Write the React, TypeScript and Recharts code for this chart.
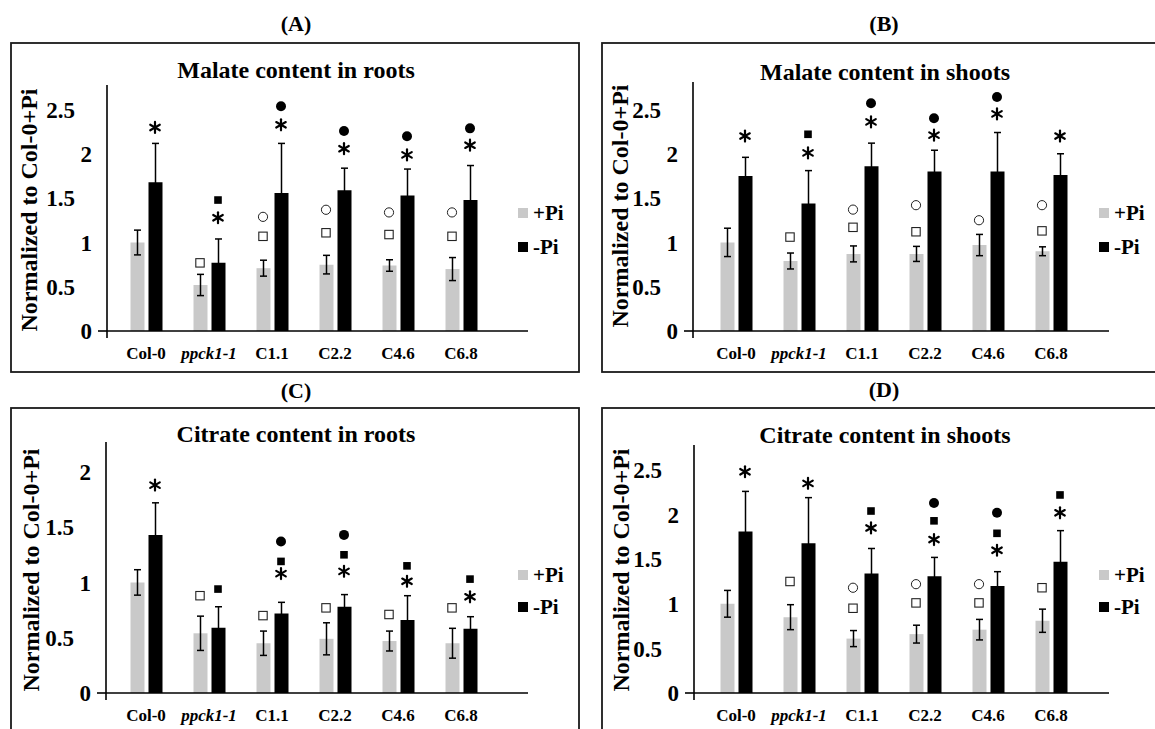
import { BarChart, Bar, XAxis, YAxis, ErrorBar, ReferenceDot, Legend } from "recharts";

const FONT = '"Liberation Serif", "Times New Roman", serif';
const GRAY = "#c9c9c9";

const GENOTYPES = ["Col-0", "ppck1-1", "C1.1", "C2.2", "C4.6", "C6.8"];

// (A) malate, roots
const MAL_ROOT_PLUS = [1.0, 0.52, 0.71, 0.75, 0.74, 0.7];
const MAL_ROOT_PLUS_SE = [0.14, 0.12, 0.09, 0.105, 0.065, 0.13];
const MAL_ROOT_MINUS = [1.68, 0.77, 1.56, 1.59, 1.53, 1.48];
const MAL_ROOT_MINUS_SE = [0.44, 0.27, 0.56, 0.25, 0.3, 0.39];

// (B) malate, shoots
const MAL_SHOOT_PLUS = [1.0, 0.79, 0.87, 0.87, 0.97, 0.9];
const MAL_SHOOT_PLUS_SE = [0.16, 0.09, 0.09, 0.085, 0.12, 0.05];
const MAL_SHOOT_MINUS = [1.75, 1.44, 1.86, 1.8, 1.8, 1.76];
const MAL_SHOOT_MINUS_SE = [0.21, 0.37, 0.26, 0.24, 0.44, 0.24];

// (C) citrate, roots
const CIT_ROOT_PLUS = [1.0, 0.54, 0.45, 0.49, 0.47, 0.45];
const CIT_ROOT_PLUS_SE = [0.115, 0.155, 0.11, 0.145, 0.09, 0.135];
const CIT_ROOT_MINUS = [1.43, 0.59, 0.72, 0.78, 0.66, 0.58];
const CIT_ROOT_MINUS_SE = [0.29, 0.19, 0.1, 0.11, 0.22, 0.11];

// (D) citrate, shoots
const CIT_SHOOT_PLUS = [1.0, 0.85, 0.61, 0.66, 0.71, 0.81];
const CIT_SHOOT_PLUS_SE = [0.15, 0.14, 0.09, 0.1, 0.115, 0.13];
const CIT_SHOOT_MINUS = [1.81, 1.68, 1.34, 1.31, 1.2, 1.47];
const CIT_SHOOT_MINUS_SE = [0.45, 0.51, 0.28, 0.21, 0.16, 0.35];

// significance marks: genotype, treatment, symbol, height
type Kind = "star" | "fcirc" | "fsq" | "ocirc" | "osq";
type Mark = [string, "+" | "-", Kind, number];

const MAL_ROOT_MARKS: Mark[] = [
  ["Col-0", "-", "star", 2.3],
  ["ppck1-1", "+", "osq", 0.77], ["ppck1-1", "-", "fsq", 1.48], ["ppck1-1", "-", "star", 1.28],
  ["C1.1", "+", "ocirc", 1.29], ["C1.1", "+", "osq", 1.07], ["C1.1", "-", "fcirc", 2.54], ["C1.1", "-", "star", 2.33],
  ["C2.2", "+", "ocirc", 1.37], ["C2.2", "+", "osq", 1.11], ["C2.2", "-", "fcirc", 2.26], ["C2.2", "-", "star", 2.06],
  ["C4.6", "+", "ocirc", 1.34], ["C4.6", "+", "osq", 1.09], ["C4.6", "-", "fcirc", 2.2], ["C4.6", "-", "star", 1.99],
  ["C6.8", "+", "ocirc", 1.34], ["C6.8", "+", "osq", 1.07], ["C6.8", "-", "fcirc", 2.29], ["C6.8", "-", "star", 2.1],
];

const MAL_SHOOT_MARKS: Mark[] = [
  ["Col-0", "-", "star", 2.2],
  ["ppck1-1", "+", "osq", 1.06], ["ppck1-1", "-", "fsq", 2.22], ["ppck1-1", "-", "star", 2.01],
  ["C1.1", "+", "ocirc", 1.37], ["C1.1", "+", "osq", 1.17], ["C1.1", "-", "fcirc", 2.57], ["C1.1", "-", "star", 2.36],
  ["C2.2", "+", "ocirc", 1.42], ["C2.2", "+", "osq", 1.12], ["C2.2", "-", "fcirc", 2.4], ["C2.2", "-", "star", 2.21],
  ["C4.6", "+", "ocirc", 1.25], ["C4.6", "-", "fcirc", 2.64], ["C4.6", "-", "star", 2.45],
  ["C6.8", "+", "ocirc", 1.42], ["C6.8", "+", "osq", 1.13], ["C6.8", "-", "star", 2.2],
];

const CIT_ROOT_MARKS: Mark[] = [
  ["Col-0", "-", "star", 1.88],
  ["ppck1-1", "+", "osq", 0.88], ["ppck1-1", "-", "fsq", 0.94],
  ["C1.1", "+", "osq", 0.7], ["C1.1", "-", "fcirc", 1.37], ["C1.1", "-", "fsq", 1.19], ["C1.1", "-", "star", 1.08],
  ["C2.2", "+", "osq", 0.77], ["C2.2", "-", "fcirc", 1.43], ["C2.2", "-", "fsq", 1.25], ["C2.2", "-", "star", 1.1],
  ["C4.6", "+", "osq", 0.71], ["C4.6", "-", "fsq", 1.15], ["C4.6", "-", "star", 1.01],
  ["C6.8", "+", "osq", 0.77], ["C6.8", "-", "fsq", 1.03], ["C6.8", "-", "star", 0.87],
];

const CIT_SHOOT_MARKS: Mark[] = [
  ["Col-0", "-", "star", 2.48],
  ["ppck1-1", "+", "osq", 1.25], ["ppck1-1", "-", "star", 2.35],
  ["C1.1", "+", "ocirc", 1.18], ["C1.1", "+", "osq", 0.95], ["C1.1", "-", "fsq", 2.04], ["C1.1", "-", "star", 1.85],
  ["C2.2", "+", "ocirc", 1.22], ["C2.2", "+", "osq", 1.01], ["C2.2", "-", "fcirc", 2.13], ["C2.2", "-", "fsq", 1.93], ["C2.2", "-", "star", 1.72],
  ["C4.6", "+", "ocirc", 1.22], ["C4.6", "+", "osq", 1.01], ["C4.6", "-", "fcirc", 2.02], ["C4.6", "-", "fsq", 1.79], ["C4.6", "-", "star", 1.6],
  ["C6.8", "+", "osq", 1.18], ["C6.8", "-", "fsq", 2.22], ["C6.8", "-", "star", 2.02],
];

const TICKS_25 = [0, 0.5, 1, 1.5, 2, 2.5];
const TICKS_2 = [0, 0.5, 1, 1.5, 2];

function Marker({ cx, cy, kind }: { cx: number; cy: number; kind: Kind }) {
  if (kind === "star") {
    const r = 5.5;
    return (
      <g stroke="#000" strokeWidth={2.2} strokeLinecap="round">
        {[90, 30, 150].map((a) => {
          const dx = r * Math.cos((a * Math.PI) / 180);
          const dy = r * Math.sin((a * Math.PI) / 180);
          return <line key={a} x1={cx - dx} y1={cy - dy} x2={cx + dx} y2={cy + dy} />;
        })}
      </g>
    );
  }
  if (kind === "fcirc") return <circle cx={cx} cy={cy} r={5} fill="#000" />;
  if (kind === "ocirc") return <circle cx={cx} cy={cy} r={4.6} fill="#fff" stroke="#222" strokeWidth={1} />;
  if (kind === "fsq") return <rect x={cx - 3.8} y={cy - 3.8} width={7.6} height={7.6} fill="#000" />;
  return <rect x={cx - 4.2} y={cy - 4.2} width={8.4} height={8.4} fill="#fff" stroke="#222" strokeWidth={1.1} />;
}

function CatTick(props: any) {
  const { x, y, payload } = props;
  const italic = payload.value === "ppck1-1";
  return (
    <text x={x} y={y} dy="0.71em" textAnchor="middle" fontFamily={FONT} fontSize={17} fontWeight="bold"
      fontStyle={italic ? "italic" : "normal"} fill="#000">
      {payload.value}
    </text>
  );
}

function ValTick(props: any) {
  const { x, y, payload } = props;
  const ax = x + 15;
  // in the original the half-step labels sit further left than the whole numbers
  const shift = Number.isInteger(payload.value) ? 0 : -17;
  return (
    <g>
      <text x={x + shift} y={y} dy="0.355em" textAnchor="end" fontFamily={FONT} fontSize={23} fontWeight="bold" fill="#000">
        {payload.value}
      </text>
      {payload.value === 0 && (
        <g stroke="#000" strokeWidth={1.6}>
          <line x1={ax - 9} y1={y} x2={ax} y2={y} />
          <line x1={ax} y1={y} x2={ax} y2={y + 7} />
        </g>
      )}
    </g>
  );
}

function LegendBox({ payload, rowH }: any) {
  return (
    <div style={{ fontFamily: FONT, fontWeight: "bold", fontSize: 21, color: "#000" }}>
      {(payload || []).map((p: any) => (
        <div key={p.value} style={{ display: "flex", alignItems: "center", height: rowH }}>
          <span style={{ display: "inline-block", width: 10, height: 10, background: p.color, marginRight: 5 }} />
          <span style={{ lineHeight: 1 }}>{p.value}</span>
        </div>
      ))}
    </div>
  );
}

type PanelCfg = {
  left: number; top: number; width: number; height: number;
  mTop: number; mRight: number; yW: number; xH: number;
  padL: number; padR: number; max: number; ticks: number[];
  legLeft: number; legTop: number; rowH: number;
  plus: number[]; plusSe: number[]; minus: number[]; minusSe: number[]; marks: Mark[];
};

function Panel({ c }: { c: PanelCfg }) {
  const data = GENOTYPES.map((g, i) => ({
    name: g, plus: c.plus[i], plusSe: c.plusSe[i], minus: c.minus[i], minusSe: c.minusSe[i],
  }));
  return (
    <div style={{ position: "absolute", left: c.left, top: c.top }}>
      <BarChart width={c.width} height={c.height} data={data} barGap={4}
        margin={{ top: c.mTop, right: c.mRight, bottom: 0, left: 0 }}>
        <XAxis dataKey="name" height={c.xH} interval={0} padding={{ left: c.padL, right: c.padR }}
          axisLine={{ stroke: "#000", strokeWidth: 1.6 }} tickLine={false} tickSize={0} tickMargin={15.5}
          tick={<CatTick />} />
        <YAxis width={c.yW} domain={[0, c.max]} ticks={c.ticks} axisLine={{ stroke: "#000", strokeWidth: 1.6 }}
          tickLine={false} tickSize={0} tickMargin={15} tick={<ValTick />} />
        <Bar dataKey="plus" name="+Pi" fill={GRAY} barSize={14} isAnimationActive={false}>
          <ErrorBar dataKey="plusSe" width={3.5} stroke="#000" strokeWidth={1.5} />
        </Bar>
        <Bar dataKey="minus" name="-Pi" fill="#000" barSize={14} isAnimationActive={false}>
          <ErrorBar dataKey="minusSe" width={3.5} stroke="#000" strokeWidth={1.5} />
        </Bar>
        {c.marks.map(([g, t, kind, v], i) => (
          <ReferenceDot key={i} x={g} y={v} ifOverflow="visible"
            shape={(p: any) => <Marker cx={p.cx + (t === "+" ? -9 : 9)} cy={p.cy} kind={kind} />} />
        ))}
        <Legend layout="horizontal" verticalAlign="middle" align="center"
          wrapperStyle={{ left: c.legLeft, top: c.legTop, width: 70 }}
          content={(p: any) => <LegendBox payload={p.payload} rowH={c.rowH} />} />
      </BarChart>
    </div>
  );
}

const PANEL_A: PanelCfg = {
  left: 11, top: 43, width: 568, height: 329, mTop: 42, mRight: 51, yW: 96, xH: 41,
  padL: 7.5, padR: 35.5, max: 2.78, ticks: TICKS_25, legLeft: 507, legTop: 153, rowH: 34,
  plus: MAL_ROOT_PLUS, plusSe: MAL_ROOT_PLUS_SE, minus: MAL_ROOT_MINUS, minusSe: MAL_ROOT_MINUS_SE, marks: MAL_ROOT_MARKS,
};
const PANEL_B: PanelCfg = {
  left: 602, top: 43, width: 553, height: 329, mTop: 39, mRight: 46, yW: 91, xH: 41,
  padL: 11.5, padR: 26.5, max: 2.81, ticks: TICKS_25, legLeft: 497, legTop: 153, rowH: 34,
  plus: MAL_SHOOT_PLUS, plusSe: MAL_SHOOT_PLUS_SE, minus: MAL_SHOOT_MINUS, minusSe: MAL_SHOOT_MINUS_SE, marks: MAL_SHOOT_MARKS,
};
const PANEL_C: PanelCfg = {
  left: 11, top: 408, width: 568, height: 321, mTop: 34, mRight: 51, yW: 95, xH: 36,
  padL: 8.5, padR: 35.5, max: 2.27, ticks: TICKS_2, legLeft: 507, legTop: 151, rowH: 32,
  plus: CIT_ROOT_PLUS, plusSe: CIT_ROOT_PLUS_SE, minus: CIT_ROOT_MINUS, minusSe: CIT_ROOT_MINUS_SE, marks: CIT_ROOT_MARKS,
};
const PANEL_D: PanelCfg = {
  left: 602, top: 408, width: 553, height: 321, mTop: 37, mRight: 46, yW: 92, xH: 36,
  padL: 10.5, padR: 26.5, max: 2.78, ticks: TICKS_25, legLeft: 497, legTop: 151, rowH: 32,
  plus: CIT_SHOOT_PLUS, plusSe: CIT_SHOOT_PLUS_SE, minus: CIT_SHOOT_MINUS, minusSe: CIT_SHOOT_MINUS_SE, marks: CIT_SHOOT_MARKS,
};

const boldText = { fontFamily: FONT, fontWeight: "bold" as const, fill: "#000" };

export default function App() {
  return (
    <div style={{ position: "absolute", left: 0, top: 0, width: 1155, height: 729, overflow: "hidden", background: "#fff", fontFamily: FONT }}>
      <svg width={1155} height={729} style={{ position: "absolute", left: 0, top: 0 }}>
        <g fill="none" stroke="#1a1a1a" strokeWidth={1.8}>
          <rect x={11} y={43} width={568} height={329} />
          <rect x={602} y={43} width={570} height={329} />
          <rect x={11} y={408} width={568} height={340} />
          <rect x={602} y={408} width={570} height={340} />
        </g>
        <text x={296} y={31} textAnchor="middle" fontSize={22} {...boldText}>(A)</text>
        <text x={884} y={31} textAnchor="middle" fontSize={22} {...boldText}>(B)</text>
        <text x={296} y={398} textAnchor="middle" fontSize={22} {...boldText}>(C)</text>
        <text x={884} y={397} textAnchor="middle" fontSize={22} {...boldText}>(D)</text>

        <text x={296} y={78} textAnchor="middle" fontSize={24} {...boldText}>Malate content in roots</text>
        <text x={885} y={80} textAnchor="middle" fontSize={24} {...boldText}>Malate content in shoots</text>
        <text x={296} y={442} textAnchor="middle" fontSize={24} {...boldText}>Citrate content in roots</text>
        <text x={885} y={443} textAnchor="middle" fontSize={24} {...boldText}>Citrate content in shoots</text>

        <text transform="translate(37,210) rotate(-90)" textAnchor="middle" fontSize={24} {...boldText}>Normalized to Col-0+Pi</text>
        <text transform="translate(628,206) rotate(-90)" textAnchor="middle" fontSize={24} {...boldText}>Normalized to Col-0+Pi</text>
        <text transform="translate(39,570) rotate(-90)" textAnchor="middle" fontSize={24} {...boldText}>Normalized to Col-0+Pi</text>
        <text transform="translate(629,570) rotate(-90)" textAnchor="middle" fontSize={24} {...boldText}>Normalized to Col-0+Pi</text>
      </svg>
      <Panel c={PANEL_A} />
      <Panel c={PANEL_B} />
      <Panel c={PANEL_C} />
      <Panel c={PANEL_D} />
    </div>
  );
}
